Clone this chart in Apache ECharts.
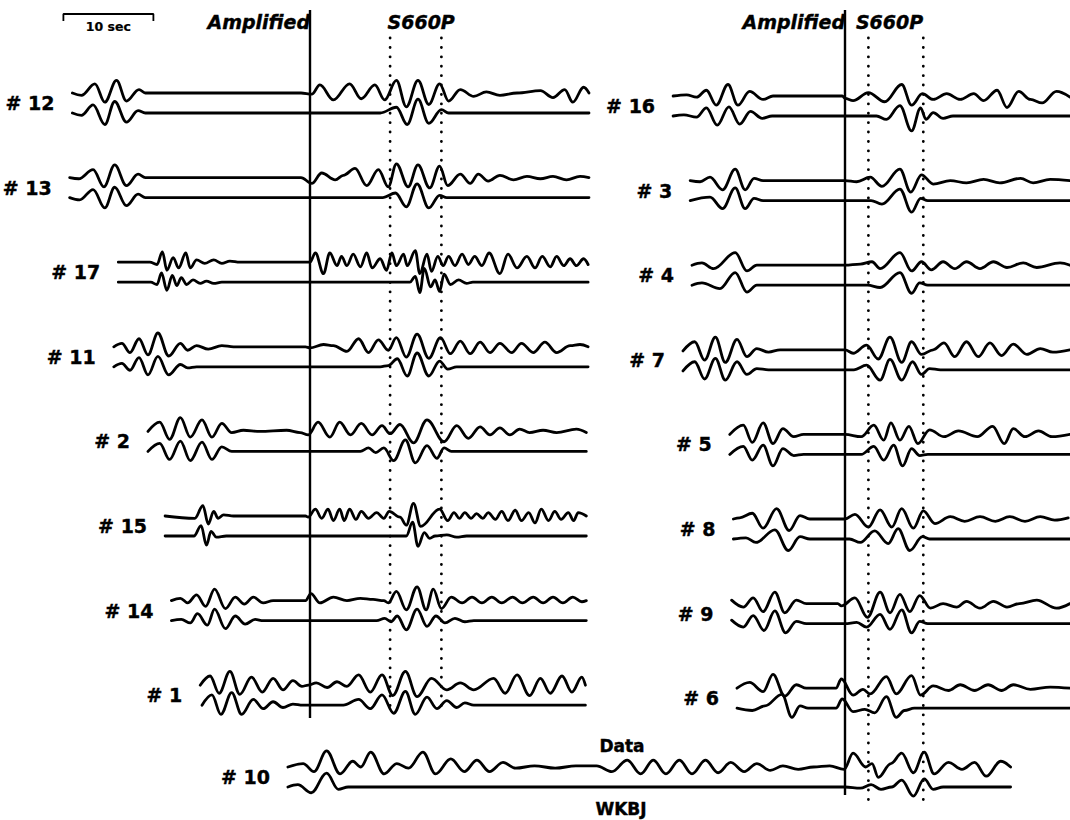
<!DOCTYPE html>
<html><head><meta charset="utf-8">
<script src="https://cdn.jsdelivr.net/npm/echarts/dist/echarts.min.js"></script>
<style>html,body{margin:0;padding:0;background:#fff}#c{width:1070px;height:820px}</style>
</head><body><div id="c"></div>
<script>
// ---------------- DATA ----------------
// station labels (left column top->bottom, right column top->bottom, bottom trace)
const leftStations  = ['# 12','# 13','# 17','# 11','# 2','# 15','# 14','# 1'];
const rightStations = ['# 16','# 3','# 4','# 7','# 5','# 8','# 9','# 6'];
const bottomStation = '# 10';
// S660P window (s, relative to the "Amplified" mark of each panel)
const s660pLeft  = [8.9, 14.6];
const s660pRight = [2.6, 8.7];
const scaleBarSec = 10;
// Waveform extrema: [time (s) relative to "Amplified" mark, amplitude (counts)]
// data = observed, wkbj = WKBJ synthetic
const data12 = [[-26.4,0],[-25.4,-2],[-23.9,8],[-22.8,-8],[-21.5,11],[-20.4,-7],[-19.0,3],[-18.3,0],[-1.0,0],[0.2,-1],[1.1,7],[2.6,-6],[4.4,8],[5.7,-5],[7.2,7],[8.3,-6],[9.6,11],[10.7,-12],[12.0,11],[13.2,-10],[14.4,8],[15.4,-7],[16.7,3],[18.2,-3],[19.6,1],[21.1,-2],[23.0,0],[25.6,2],[27.0,-4],[28.3,3],[29.2,-8],[30.4,5],[31.0,0]];
const wkbj12 = [[-26.4,0],[-25.4,-2],[-24.1,7],[-22.8,-10],[-21.7,10],[-20.4,-8],[-19.1,2],[-18.3,0],[7.8,0],[9.6,5],[10.8,-10],[12.0,12],[13.2,-9],[14.6,3],[15.4,0],[31.0,0]];
const data13 = [[-26.7,0],[-25.7,-1],[-24.1,7],[-22.9,-8],[-21.7,11],[-20.4,-7],[-19.1,3],[-18.3,0],[-1.0,0],[0.2,-5],[1.3,4],[2.8,-2],[3.7,2],[5.0,8],[6.3,-7],[7.6,7],[8.7,-8],[9.6,12],[10.9,-8],[12.0,11],[13.3,-9],[14.4,10],[15.3,-7],[16.7,3],[17.8,-5],[18.7,3],[19.8,-3],[21.1,2],[22.6,-2],[24.1,1],[25.6,-1],[27.0,1],[28.5,-2],[30.0,1],[31.0,0]];
const wkbj13 = [[-26.7,0],[-25.6,-2],[-24.1,7],[-22.8,-9],[-21.7,9],[-20.4,-7],[-19.1,3],[-18.3,0],[8.1,0],[9.5,4],[10.7,-8],[11.9,12],[13.2,-9],[14.4,2],[15.2,0],[31.0,0]];
const data17 = [[-21.3,0],[-17.8,0],[-17.0,-2],[-16.4,9],[-15.9,-7],[-15.2,4],[-14.6,-5],[-13.8,8],[-13.3,-5],[-12.6,2],[-11.7,-1],[-10.7,2],[-9.8,-1],[-8.9,1],[-7.8,0],[-0.5,0],[0.0,0],[0.6,8],[1.5,-10],[2.2,8],[3.0,-3],[3.5,5],[4.1,-3],[4.8,7],[5.6,-4],[6.3,8],[6.9,-5],[7.8,3],[8.5,-7],[9.1,8],[9.6,-3],[10.4,7],[10.8,-3],[11.7,10],[12.2,-10],[13.0,7],[13.5,-8],[14.2,5],[14.8,-3],[15.4,5],[16.1,-3],[16.9,7],[17.6,-2],[18.3,5],[19.1,-3],[19.9,8],[21.1,-10],[22.0,7],[23.0,-5],[24.1,5],[25.0,-5],[25.8,5],[26.7,-4],[27.4,5],[28.2,-3],[28.9,3],[29.6,-3],[30.4,3],[30.9,-2]];
const wkbj17 = [[-21.3,0],[-17.7,0],[-17.0,-2],[-16.5,8],[-15.9,-7],[-15.3,6],[-14.8,-3],[-14.3,4],[-13.7,-2],[-13.0,2],[-12.2,-1],[-11.5,1],[-10.7,-1],[-9.8,0],[11.1,0],[11.7,5],[12.2,-9],[12.7,12],[13.4,-4],[13.9,2],[14.4,-8],[14.9,7],[15.6,-2],[16.5,2],[17.4,-1],[18.1,0],[30.9,0]];
const data11 = [[-21.8,0],[-20.9,3],[-20.0,-5],[-19.0,7],[-18.0,-7],[-16.9,12],[-15.7,-8],[-14.4,3],[-13.6,-3],[-12.6,1],[-11.3,-2],[-9.8,1],[-8.5,0],[-0.5,0],[0.0,-1],[1.5,2],[2.6,1],[4.1,-4],[5.4,7],[6.5,-5],[7.6,6],[8.7,-3],[9.6,8],[10.7,-9],[11.9,11],[13.2,-10],[14.5,8],[15.6,-6],[16.7,5],[17.8,-6],[18.9,4],[20.0,-5],[21.1,3],[22.4,-5],[23.5,3],[24.8,-5],[26.1,4],[27.4,-5],[28.9,1],[30.0,2],[30.9,0]];
const wkbj11 = [[-21.8,0],[-20.9,3],[-20.0,-3],[-19.0,8],[-18.0,-7],[-16.9,9],[-15.7,-7],[-14.4,2],[-13.6,-1],[-12.6,0],[7.8,0],[8.7,1],[9.7,7],[10.8,-8],[11.9,12],[13.2,-8],[14.4,5],[15.3,-2],[16.3,0],[30.9,0]];
const data2 = [[-18.0,0],[-16.7,8],[-15.6,-7],[-14.4,12],[-13.3,-5],[-12.0,10],[-10.9,-5],[-9.8,7],[-8.7,-1],[-7.4,1],[-5.6,0],[-2.6,1],[-1.1,-1],[-0.2,-3],[0.9,8],[2.2,-5],[3.3,8],[4.5,-3],[5.7,7],[6.9,-3],[8.0,5],[8.9,-2],[10.0,6],[11.5,-10],[13.0,10],[14.9,-9],[16.3,5],[17.6,-6],[18.9,4],[20.0,-3],[21.1,3],[22.2,-3],[23.3,2],[24.4,-1],[25.9,1],[27.4,-1],[29.6,2],[30.7,-1]];
const wkbj2 = [[-18.0,0],[-16.7,7],[-15.6,-7],[-14.4,9],[-13.3,-8],[-12.0,8],[-10.9,-7],[-9.8,4],[-8.7,0],[5.6,0],[6.5,3],[7.3,-1],[8.2,3],[9.3,-8],[10.6,10],[11.7,-10],[13.0,5],[14.1,-6],[14.9,3],[15.7,0],[30.7,0]];
const data15 = [[-16.1,0],[-12.8,-2],[-11.9,9],[-11.3,-7],[-10.7,4],[-10.2,-2],[-9.6,1],[-8.5,0],[-0.5,0],[-0.2,-1],[0.6,6],[1.3,-2],[2.0,6],[2.6,-4],[3.3,6],[3.8,-4],[4.4,6],[5.1,-3],[5.7,4],[6.5,-2],[7.4,3],[8.2,-2],[8.8,4],[10.0,-1],[10.7,-8],[11.5,11],[12.3,-9],[14.4,6],[15.3,-4],[16.0,3],[16.6,-2],[17.2,3],[17.9,-2],[18.5,2],[19.2,-2],[19.8,3],[20.6,-3],[21.3,4],[22.0,-4],[22.8,5],[23.5,-4],[24.3,3],[25.0,-6],[25.7,6],[26.5,-4],[27.2,4],[27.9,-3],[28.7,3],[29.3,-4],[29.8,3],[30.7,0]];
const wkbj15 = [[-16.1,0],[-12.9,0],[-12.1,9],[-11.5,-8],[-11.0,4],[-10.4,-1],[-9.3,0],[10.7,0],[11.4,12],[12.0,-9],[12.7,3],[13.3,-2],[13.9,0],[15.2,1],[16.3,-1],[17.4,0],[30.7,0]];
const data14 = [[-15.4,0],[-14.4,2],[-13.6,-2],[-12.6,5],[-11.6,-5],[-10.6,10],[-9.4,-7],[-8.3,3],[-7.3,-3],[-6.3,3],[-5.2,-2],[-4.1,0],[-0.5,0],[0.1,6],[1.1,-2],[2.6,3],[4.1,0],[5.6,2],[7.0,1],[8.2,0],[8.7,-2],[9.6,8],[10.7,-8],[11.9,12],[12.9,-8],[13.7,10],[14.6,-7],[15.7,3],[16.9,-2],[18.0,3],[19.1,-2],[20.2,3],[21.3,-2],[22.5,3],[23.6,-2],[24.8,3],[25.9,-2],[27.0,3],[28.1,-2],[29.2,3],[30.2,-1],[30.7,0]];
const wkbj14 = [[-15.4,0],[-14.3,1],[-13.3,-2],[-12.5,6],[-11.4,-4],[-10.6,10],[-9.4,-7],[-8.3,4],[-7.2,-3],[-6.1,1],[-5.2,0],[7.4,0],[8.3,2],[9.0,-1],[9.7,4],[10.7,-8],[11.9,10],[13.0,-5],[14.0,4],[15.0,-2],[16.1,2],[17.2,-1],[18.2,0],[30.7,0]];
const data1 = [[-12.2,0],[-11.1,8],[-10.1,-7],[-8.9,12],[-7.8,-8],[-6.5,7],[-5.3,-6],[-4.1,6],[-3.0,-4],[-1.9,4],[-0.9,-1],[-0.2,0],[0.7,2],[1.9,-2],[3.0,3],[4.1,-1],[5.4,9],[6.7,-6],[8.0,9],[9.2,-9],[10.6,12],[11.9,-10],[13.5,6],[15.2,-4],[16.7,2],[18.2,-4],[20.4,6],[21.7,-7],[23.0,9],[24.4,-9],[25.6,6],[26.7,-7],[28.0,8],[29.1,-6],[30.2,7],[30.6,0]];
const wkbj1 = [[-12.0,0],[-10.9,9],[-9.9,-8],[-8.7,11],[-7.6,-8],[-6.3,5],[-5.2,-3],[-4.1,3],[-3.0,-2],[-1.9,1],[-0.8,0],[3.7,0],[5.4,5],[6.7,-3],[8.0,9],[9.3,-7],[10.6,12],[11.7,-8],[13.0,7],[14.1,-3],[15.2,4],[16.3,-2],[17.2,2],[18.2,0],[30.6,0]];

const data16 = [[-19.1,0],[-17.6,1],[-16.5,-1],[-15.4,5],[-14.3,-8],[-13.0,10],[-11.9,-8],[-10.6,4],[-9.1,-3],[-8.0,0],[-0.3,0],[0.0,-2],[0.9,-4],[2.6,3],[4.4,-5],[6.3,10],[7.4,-8],[8.6,2],[9.8,-3],[11.3,2],[12.8,-3],[14.3,2],[15.4,-4],[16.9,5],[18.0,-10],[19.3,4],[20.6,-3],[21.9,-6],[23.5,4],[25.0,-1]];
const wkbj16 = [[-19.1,0],[-17.9,1],[-16.5,-1],[-15.4,7],[-14.2,-8],[-12.9,8],[-11.7,-7],[-10.5,4],[-9.2,-2],[-8.1,0],[3.5,0],[4.6,-3],[6.1,9],[7.4,-13],[8.4,7],[9.0,-3],[9.8,3],[10.9,-2],[12.0,0],[25.0,0]];
const data3 = [[-17.2,0],[-16.1,-1],[-15.0,3],[-13.6,-8],[-12.2,10],[-11.1,-8],[-10.1,2],[-9.1,0],[0.0,0],[1.3,-1],[2.8,3],[4.1,-5],[6.1,10],[7.3,-10],[8.5,5],[9.8,-3],[11.7,0],[13.5,-2],[15.4,1],[17.2,-2],[19.5,2],[20.9,-2],[22.8,1],[25.0,0]];
const wkbj3 = [[-17.2,0],[-15.0,3],[-13.6,-7],[-12.2,11],[-11.1,-7],[-10.1,2],[-9.1,0],[2.9,0],[4.1,-3],[6.1,10],[7.4,-10],[8.4,2],[9.2,0],[25.0,0]];
const data4 = [[-17.0,0],[-15.9,2],[-14.6,-3],[-12.2,11],[-10.9,-5],[-9.8,0],[0.0,0],[1.7,1],[3.0,3],[3.9,-3],[6.1,11],[7.4,-5],[8.5,3],[9.6,-4],[10.9,3],[12.2,-3],[13.5,3],[15.0,-3],[16.5,3],[18.0,-2],[19.8,2],[21.3,-2],[23.9,2],[25.0,0]];
const wkbj4 = [[-17.0,0],[-15.9,2],[-13.9,-3],[-12.2,11],[-10.9,-6],[-9.8,0],[2.5,0],[3.9,-2],[6.1,11],[7.4,-7],[8.3,2],[9.2,0],[25.0,0]];
const data7 = [[-18.0,-1],[-16.7,7],[-15.6,-9],[-14.4,11],[-13.3,-11],[-12.0,9],[-10.9,-6],[-9.8,1],[-8.5,-2],[-7.2,0],[0.0,0],[0.9,-3],[2.4,4],[3.7,-8],[5.0,11],[6.3,-11],[7.4,7],[8.5,-4],[9.8,0],[11.0,6],[12.2,-6],[13.5,7],[14.8,-6],[16.1,6],[17.4,-5],[18.7,5],[20.2,-4],[21.7,1],[23.1,-2],[25.0,0]];
const wkbj7 = [[-18.0,-1],[-16.7,7],[-15.6,-8],[-14.4,10],[-13.3,-9],[-12.0,7],[-10.9,-4],[-9.8,1],[-8.5,0],[1.0,0],[2.4,4],[3.9,-9],[5.0,9],[6.3,-9],[7.5,7],[8.5,-4],[9.4,1],[10.6,0],[25.0,0]];
const data5 = [[-12.8,0],[-11.3,8],[-10.3,-7],[-9.1,10],[-8.0,-8],[-6.9,5],[-5.7,-2],[-4.6,0],[0.0,0],[1.8,-2],[3.2,8],[4.3,-5],[5.1,10],[6.1,-5],[7.1,7],[8.1,-8],[9.4,4],[11.0,-2],[12.6,3],[14.7,-2],[16.4,7],[17.7,-8],[18.7,5],[20.0,-2],[21.5,3],[23.0,-2],[25.0,0]];
const wkbj5 = [[-12.8,0],[-11.3,7],[-10.3,-5],[-9.1,8],[-8.0,-10],[-6.9,5],[-5.7,-1],[-4.6,0],[1.8,0],[3.2,7],[4.3,-5],[5.4,8],[6.4,-10],[7.4,5],[8.3,-1],[9.2,0],[25.0,0]];
const data8 = [[-12.4,0],[-11.7,1],[-10.3,5],[-9.1,-8],[-7.6,9],[-6.2,-10],[-5.0,3],[-3.9,0],[0.0,0],[1.1,4],[2.6,-7],[3.9,8],[5.2,-7],[6.3,9],[7.6,-8],[8.7,7],[10.0,-4],[11.7,2],[13.3,-2],[15.0,2],[16.7,-2],[18.3,2],[20.0,-2],[21.7,2],[23.3,-1],[24.8,1]];
const wkbj8 = [[-12.4,0],[-11.0,1],[-9.9,-3],[-7.8,8],[-6.3,-10],[-5.0,2],[-3.9,0],[0.5,0],[1.7,-3],[3.3,7],[4.8,-4],[5.9,9],[7.2,-10],[8.6,2],[9.4,0],[25.0,0]];
const data9 = [[-12.6,3],[-11.3,-3],[-10.2,5],[-9.1,-7],[-7.8,10],[-6.7,-8],[-5.4,3],[-4.3,0],[-0.8,0],[-0.4,-2],[1.1,5],[2.5,-12],[3.9,10],[5.0,-8],[6.1,8],[7.2,-7],[8.3,7],[9.5,-4],[10.9,0],[12.4,-3],[13.5,2],[15.0,-4],[16.5,2],[18.0,-3],[19.4,0],[21.3,3],[23.5,-4],[25.0,0]];
const wkbj9 = [[-12.6,3],[-11.3,-3],[-10.2,7],[-9.0,-6],[-7.8,11],[-6.6,-8],[-5.4,2],[-4.3,0],[0.0,0],[1.3,1],[2.4,-3],[3.9,8],[5.0,-5],[6.3,12],[7.4,-8],[8.3,2],[9.2,0],[25.0,0]];
const data6 = [[-12.0,0],[-10.6,5],[-9.1,-3],[-8.0,12],[-6.7,-7],[-5.4,3],[-4.3,0],[-1.0,0],[-0.4,8],[0.9,-6],[2.0,-1],[2.8,-5],[4.6,10],[5.7,-5],[7.4,11],[8.4,-6],[9.8,2],[11.5,-2],[12.8,3],[14.4,-2],[15.9,3],[17.4,-2],[18.7,3],[20.6,-1],[22.8,1],[25.0,0]];
const wkbj6 = [[-12.0,0],[-10.3,-2],[-8.9,2],[-7.0,12],[-5.9,-8],[-5.0,2],[-4.1,0],[-1.0,0],[-0.3,8],[0.9,-3],[2.2,-1],[3.3,-4],[4.6,10],[5.7,-8],[6.6,-2],[7.7,0],[25.0,0]];

const data10 = [[-61.9,0],[-60.2,3],[-59.0,-4],[-57.6,14],[-56.1,-6],[-54.7,5],[-53.8,0],[-52.7,13],[-51.2,-6],[-49.8,3],[-48.5,-1],[-46.9,13],[-45.5,-6],[-43.8,7],[-42.3,-4],[-40.9,6],[-39.5,-4],[-38.0,4],[-36.6,-1],[-34.5,1],[-32.2,-1],[-29.9,1],[-27.6,1],[-25.9,-4],[-24.2,6],[-22.7,-6],[-21.3,6],[-19.9,-6],[-18.4,6],[-17.0,-6],[-15.5,6],[-14.1,-5],[-12.7,4],[-11.2,-4],[-9.8,3],[-8.3,-3],[-6.9,1],[-5.2,-2],[-3.5,0],[-1.7,1],[-0.1,-2],[0.9,12],[2.3,0],[3.0,3],[3.7,-9],[5.1,3],[6.3,12],[7.6,-5],[8.8,13],[9.9,-6],[11.5,4],[13.0,-2],[14.4,4],[15.7,-8],[17.3,5],[18.4,0]];
const wkbj10 = [[-61.9,0],[-60.8,2],[-59.3,-5],[-57.6,12],[-56.3,-2],[-55.2,0],[0.0,0],[1.7,-1],[2.9,2],[4.0,-2],[5.2,0],[6.3,6],[7.6,-8],[8.8,7],[9.8,-2],[10.9,0],[18.4,0]];

// ---------------- LAYOUT (page geometry, not data) ----------------
const LAY = {W:1070, H:820, pxPerSec:9, leftMarkPx:310, rightMarkPx:845,
  firstRowPx:93, rowPx:84.6, pairPx:20, rightShiftPx:3, bottomRowPx:767, gain:1.15};
const secOf = px => px / LAY.pxPerSec;                  // page x -> plot seconds
const rowOf = px => (px - LAY.firstRowPx) / LAY.rowPx;   // page y -> row units
const gain = LAY.gain / LAY.rowPx;
const leftOrigin = secOf(LAY.leftMarkPx), rightOrigin = secOf(LAY.rightMarkPx);

const leftData = [data12,data13,data17,data11,data2,data15,data14,data1];
const leftSyn  = [wkbj12,wkbj13,wkbj17,wkbj11,wkbj2,wkbj15,wkbj14,wkbj1];
const rightData = [data16,data3,data4,data7,data5,data8,data9,data6];
const rightSyn  = [wkbj16,wkbj3,wkbj4,wkbj7,wkbj5,wkbj8,wkbj9,wkbj6];

const series = [];
const black = '#000';
function traceSeries(pts, origin, baseRow) {
  series.push({type:'line', silent:true, clip:false, symbol:'none', smooth:0.36, smoothMonotone:'x',
    lineStyle:{color:black, width:2.8, cap:'round', join:'round'},
    data: pts.map(p => [origin + p[0], baseRow - p[1]*gain])});
}
const labelPts = [];
function addPair(name, d, s, origin, basePx) {
  traceSeries(d, origin, rowOf(basePx));
  traceSeries(s, origin, rowOf(basePx + LAY.pairPx));
  labelPts.push({name, value:[origin + d[0][0], rowOf(basePx + LAY.pairPx/2)]});
}
leftStations.forEach((n,i) => addPair(n, leftData[i], leftSyn[i], leftOrigin, LAY.firstRowPx + i*LAY.rowPx));
rightStations.forEach((n,i) => addPair(n, rightData[i], rightSyn[i], rightOrigin, LAY.firstRowPx + LAY.rightShiftPx + i*LAY.rowPx));
addPair(bottomStation, data10, wkbj10, rightOrigin, LAY.bottomRowPx);

// vertical markers
function vline(x, y0px, y1px, dotted) {
  series.push({type:'line', silent:true, clip:false, symbol:'none',
    lineStyle: dotted ? {color:black, width:2.8, type:[0.1,9.3], cap:'round'} : {color:black, width:2.4},
    data:[[x, rowOf(y0px)],[x, rowOf(y1px)]]});
}
vline(leftOrigin, 10, 718, false);
vline(rightOrigin, 10, 795, false);
s660pLeft.forEach(t => vline(leftOrigin + t, 38, 706, true));
s660pRight.forEach(t => vline(rightOrigin + t, 38, 800, true));

// scale bar
const sbStart = leftOrigin - 27.4;
series.push({type:'line', silent:true, clip:false, symbol:'none', lineStyle:{color:black, width:1.8},
  data:[[sbStart, rowOf(21)],[sbStart, rowOf(14)],[sbStart+scaleBarSec, rowOf(14)],[sbStart+scaleBarSec, rowOf(21)]]});

const FONT = 'DejaVu Sans';
const textBase = {show:true, formatter:'{b}', color:black, fontFamily:FONT, fontWeight:'bold',
  textBorderColor:black, textBorderWidth:0.4};
function textSeries(label, data) {
  series.push({type:'scatter', silent:true, symbolSize:0, itemStyle:{color:black, opacity:1},
    label:Object.assign({}, textBase, label), data});
}
textSeries({fontStyle:'italic', fontSize:19}, [
  {name:'Amplified', value:[leftOrigin, rowOf(22)], label:{position:'left', distance:0}},
  {name:'Amplified', value:[rightOrigin, rowOf(22)], label:{position:'left', distance:0}},
  {name:'S660P', value:[leftOrigin + (s660pLeft[0]+s660pLeft[1])/2 + 0.6, rowOf(22)], label:{position:'inside'}},
  {name:'S660P', value:[rightOrigin + (s660pRight[0]+s660pRight[1])/2 - 0.7, rowOf(22)], label:{position:'inside'}}
]);
textSeries({fontSize:12.5, position:'inside', textBorderWidth:0.2}, [{name:'10 sec', value:[sbStart + scaleBarSec/2, rowOf(26)]}]);
textSeries({fontSize:17, position:'inside'}, [
  {name:'Data', value:[secOf(622), rowOf(746)]},
  {name:'WKBJ', value:[secOf(621), rowOf(809)]}]);
textSeries({fontSize:19, position:'left', distance:18}, labelPts);

const chart = echarts.init(document.getElementById('c'), null, {renderer:'svg', width:LAY.W, height:LAY.H});
chart.setOption({
  animation:false,
  backgroundColor:'#fff',
  grid:{left:0, right:0, top:0, bottom:0},
  xAxis:{type:'value', min:0, max:secOf(LAY.W), show:false},
  yAxis:{type:'value', min:rowOf(0), max:rowOf(LAY.H), inverse:true, show:false},
  series
});
</script></body></html>
